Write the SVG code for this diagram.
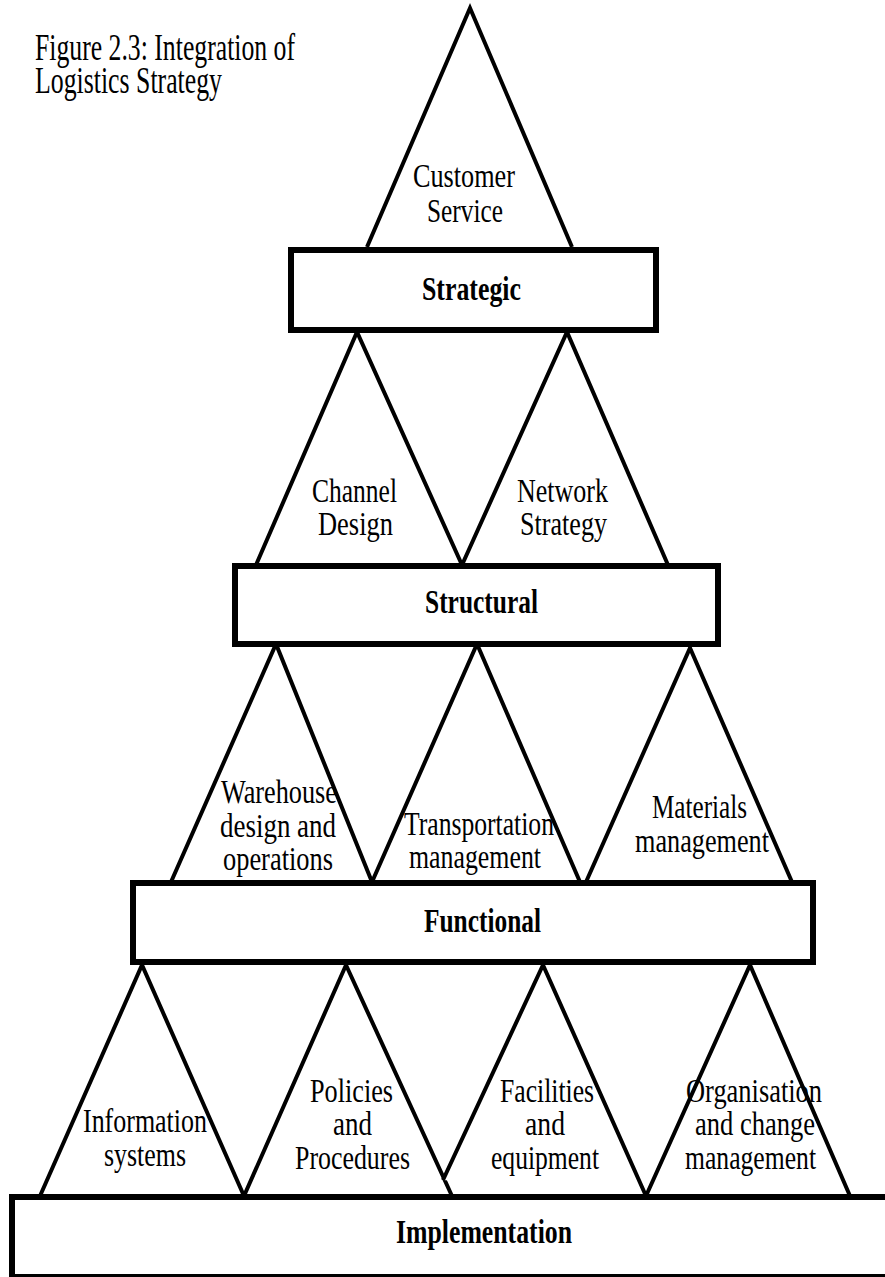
<svg xmlns="http://www.w3.org/2000/svg" width="885" height="1277" viewBox="0 0 885 1277">
<style>
.tri{fill:#fff;stroke:#000;stroke-width:4;stroke-linejoin:miter;stroke-miterlimit:20}
.box{fill:#fff;stroke:#000;stroke-width:6}
.t{font-family:"Liberation Serif","Times New Roman",serif;font-size:34px;fill:#000}
.b{font-family:"Liberation Serif","Times New Roman",serif;font-size:34px;font-weight:bold;fill:#000}
.title{font-family:"Liberation Serif","Times New Roman",serif;font-size:37px;fill:#000}
</style>
<rect width="885" height="1277" fill="#fff"/>
<g id="title">
<text class="title" x="35" y="60" textLength="260" lengthAdjust="spacingAndGlyphs">Figure 2.3: Integration of</text>
<text class="title" x="35" y="93" textLength="187" lengthAdjust="spacingAndGlyphs">Logistics Strategy</text>
</g>
<g id="connectors"></g>
<g id="customer-service">
<path class="tri" d="M367 247 L470 8 L572 247"/>
<text class="t" x="413" y="187" textLength="102" lengthAdjust="spacingAndGlyphs">Customer</text>
<text class="t" x="427" y="222" textLength="76" lengthAdjust="spacingAndGlyphs">Service</text>
</g>
<g id="channel-design">
<path class="tri" d="M256 565 L357 332 L462 565"/>
<text class="t" x="312" y="502" textLength="85" lengthAdjust="spacingAndGlyphs">Channel</text>
<text class="t" x="318" y="535" textLength="75" lengthAdjust="spacingAndGlyphs">Design</text>
</g>
<g id="network-strategy">
<path class="tri" d="M462 565 L567 332 L668 565"/>
<text class="t" x="517" y="502" textLength="91" lengthAdjust="spacingAndGlyphs">Network</text>
<text class="t" x="520" y="535" textLength="87" lengthAdjust="spacingAndGlyphs">Strategy</text>
</g>
<g id="warehouse">
<path class="tri" d="M171 882 L276 644 L372 882"/>
<text class="t" x="221" y="803" textLength="116" lengthAdjust="spacingAndGlyphs">Warehouse</text>
<text class="t" x="220" y="837" textLength="116" lengthAdjust="spacingAndGlyphs">design and</text>
<text class="t" x="223" y="870" textLength="110" lengthAdjust="spacingAndGlyphs">operations</text>
</g>
<g id="transportation">
<path class="tri" d="M372 882 L477 644 L580 882"/>
<text class="t" x="404" y="835" textLength="150" lengthAdjust="spacingAndGlyphs">Transportation</text>
<text class="t" x="409" y="868" textLength="132" lengthAdjust="spacingAndGlyphs">management</text>
</g>
<g id="materials">
<path class="tri" d="M586 882 L690 648 L792 882"/>
<text class="t" x="652" y="818" textLength="95" lengthAdjust="spacingAndGlyphs">Materials</text>
<text class="t" x="635" y="852" textLength="134" lengthAdjust="spacingAndGlyphs">management</text>
</g>
<g id="information-systems">
<path class="tri" d="M40 1196 L142 965 L244 1196"/>
<text class="t" x="83" y="1132" textLength="124" lengthAdjust="spacingAndGlyphs">Information</text>
<text class="t" x="104" y="1166" textLength="82" lengthAdjust="spacingAndGlyphs">systems</text>
</g>
<g id="policies">
<path class="tri" d="M244 1196 L346 965 L452 1196"/>
<text class="t" x="310" y="1102" textLength="83" lengthAdjust="spacingAndGlyphs">Policies</text>
<text class="t" x="333" y="1135" textLength="39" lengthAdjust="spacingAndGlyphs">and</text>
<text class="t" x="295" y="1169" textLength="115" lengthAdjust="spacingAndGlyphs">Procedures</text>
</g>
<g id="facilities">
<path class="tri" d="M443 1180 L543 965 L646 1196"/>
<text class="t" x="500" y="1102" textLength="94" lengthAdjust="spacingAndGlyphs">Facilities</text>
<text class="t" x="525" y="1135" textLength="40" lengthAdjust="spacingAndGlyphs">and</text>
<text class="t" x="491" y="1169" textLength="108" lengthAdjust="spacingAndGlyphs">equipment</text>
</g>
<g id="organisation">
<path class="tri" d="M646 1196 L750 965 L850 1196"/>
<text class="t" x="686" y="1102" textLength="136" lengthAdjust="spacingAndGlyphs">Organisation</text>
<text class="t" x="695" y="1135" textLength="120" lengthAdjust="spacingAndGlyphs">and change</text>
<text class="t" x="685" y="1169" textLength="131" lengthAdjust="spacingAndGlyphs">management</text>
</g>
<g id="strategic">
<rect class="box" x="291" y="250" width="365" height="80"/>
<text class="b" x="422" y="300" textLength="99" lengthAdjust="spacingAndGlyphs">Strategic</text>
</g>
<g id="structural">
<rect class="box" x="235" y="566" width="483" height="78"/>
<text class="b" x="425" y="613" textLength="113" lengthAdjust="spacingAndGlyphs">Structural</text>
</g>
<g id="functional">
<rect class="box" x="133" y="883" width="680" height="79"/>
<text class="b" x="424" y="932" textLength="117" lengthAdjust="spacingAndGlyphs">Functional</text>
</g>
<g id="implementation">
<rect class="box" x="12" y="1197" width="900" height="80"/>
<text class="b" x="396" y="1243" textLength="176" lengthAdjust="spacingAndGlyphs">Implementation</text>
</g>
</svg>
